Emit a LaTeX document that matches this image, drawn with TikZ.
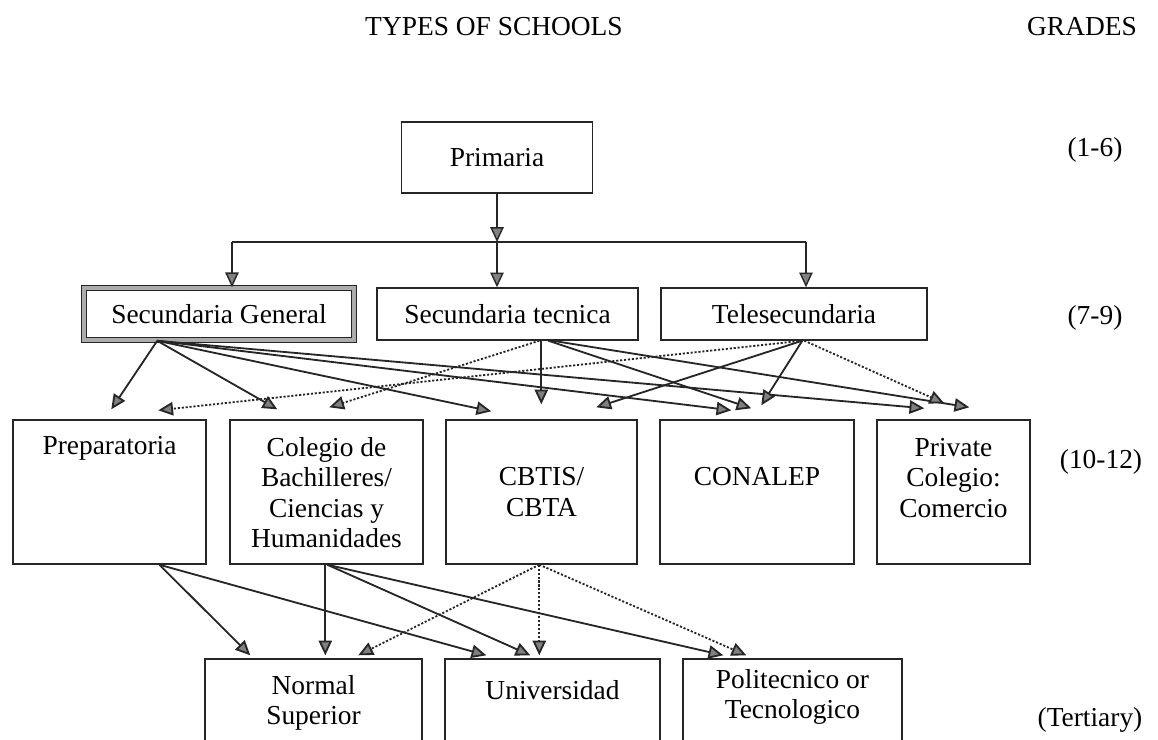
\documentclass[tikz,border=0pt]{standalone}
\usepackage{fontspec}
\setmainfont{Liberation Serif}
\usetikzlibrary{arrows.meta,calc}

\tikzset{
  school/.style 2 args={draw=black!85, line width=1pt, minimum width=#1*0.025cm,
    minimum height=#2*0.025cm, inner sep=0pt, align=center},
  words/.style={inner sep=0pt, align=center},
  link/.style={-{Triangle[length=10.5pt,width=9.5pt,fill=black!50]}, line width=1.3pt, draw=black!85},
  dotlink/.style={link, dash pattern=on 1.5pt off 1.3pt},
  bus/.style={-{Triangle[length=10.5pt,width=9.5pt,fill=black!50]}, line width=1pt, draw=black!85}
}

\begin{document}
\begin{tikzpicture}[x=0.025cm, y=-0.025cm, font=\fontsize{19.5}{21.5}\selectfont]
        \useasboundingbox (0,0) rectangle (1158,739);
        \clip (0,0) rectangle (1158,739);

        % headings and grades
        \node[words] (title) at (494,27) {TYPES OF SCHOOLS};
        \node[words] (grades) at (1082,27) {GRADES};
        \node[words] (g16) at (1095,150) {(1-6)};
        \node[words] (g79) at (1095,318) {(7-9)};
        \node[words] (g1012) at (1101,462) {(10-12)};
        \node[words] (gter) at (1090,720) {(Tertiary)};

        % schools
        \node[school={191}{71}] (prim) at (497,157.5) {Primaria};
        \node[school={270}{52}, line width=1.1pt, double=gray!65, double distance=2.6pt] (sgen) at (219,314) {Secundaria General};
        \node[school={261}{52}] (stec) at (507.5,314) {Secundaria tecnica};
        \node[school={266}{52}] (tele) at (794,314) {Telesecundaria};

        \node[school={193}{144}] (prep) at (109.5,492) {};
        \node[school={193}{144}] (cole) at (326.5,492) {};
        \node[school={191}{144}] (cbt) at (541.5,492) {CBTIS/\\CBTA};
        \node[school={194}{144}] (cona) at (757,492) {};
        \node[school={153}{144}] (priv) at (953.5,492) {};
        \node[words] (prep-t) at (109.5,448) {Preparatoria};
        \node[words] (cole-t) at (326.5,492.5) {Colegio de\\Bachilleres/\\Ciencias y\\Humanidades};
        \node[words] (cona-t) at (757,477) {CONALEP};
        \node[words] (priv-t) at (953.5,478) {Private\\Colegio:\\Comercio};

        \node[school={217}{122}] (norm) at (313.5,720) {};
        \node[school={215}{122}] (univ) at (552.5,720) {};
        \node[school={219}{122}] (poli) at (792.5,720) {};
        \node[words] (norm-t) at (313.5,703) {Normal\\Superior};
        \node[words] (univ-t) at (552.5,690) {Universidad};
        \node[words] (poli-t) at (792.5,697) {Politecnico or\\Tecnologico};

        % primaria to the three secundarias
        \coordinate (bus-l) at (232,242);
        \coordinate (bus-r) at (806,242);
        \draw[bus] (prim.south) -- (prim.south |- bus-l);
        \draw[line width=1pt, draw=black!85] (bus-l) -- (bus-r);
        \draw[bus] (bus-l) -- (bus-l |- sgen.north);
        \draw[bus] (prim.south |- bus-l) -- (prim.south |- stec.north);
        \draw[bus] (bus-r) -- (bus-r |- tele.north);

        % secundaria to grades 10-12
        \draw[link] ($(sgen.south west)+(74,0)$) -- ($(prep.north west)+(99,-10)$);
        \draw[link] ($(sgen.south west)+(74,0)$) -- ($(cole.north west)+(48,-10)$);
        \draw[link] ($(sgen.south west)+(74,0)$) -- ($(cbt.north west)+(46,-8)$);
        \draw[link] ($(sgen.south west)+(74,0)$) -- ($(cona.north west)+(72,-9)$);
        \draw[link] ($(sgen.south west)+(74,0)$) -- ($(priv.north west)+(48,-11)$);

        \draw[dotlink] ($(stec.south west)+(163,0)$) -- ($(cole.north west)+(100,-12)$);
        \draw[link] ($(stec.south west)+(165,0)$) -- ($(cbt.north west)+(96,-15)$);
        \draw[link] ($(stec.south west)+(172,0)$) -- ($(cona.north west)+(92,-11)$);
        \draw[link] ($(stec.south west)+(176,0)$) -- ($(priv.north west)+(93,-12)$);

        \draw[dotlink] ($(tele.south west)+(142,0)$) -- ($(prep.north west)+(146,-9)$);
        \draw[link] ($(tele.south west)+(142,0)$) -- ($(cbt.north west)+(151,-12)$);
        \draw[link] ($(tele.south west)+(142,0)$) -- ($(cona.north west)+(102,-14)$);
        \draw[dotlink] ($(tele.south west)+(144,0)$) -- ($(priv.north west)+(68,-16)$);

        % grades 10-12 to tertiary
        \draw[link] ($(prep.south west)+(147,0)$) -- ($(norm.north west)+(46,-3)$);
        \draw[link] ($(prep.south west)+(147,0)$) -- ($(univ.north west)+(42,-3)$);
        \draw[link] ($(cole.south west)+(96,0)$) -- ($(norm.north west)+(121,-3)$);
        \draw[link] ($(cole.south west)+(98,0)$) -- ($(univ.north west)+(86,-3)$);
        \draw[link] ($(cole.south west)+(98,0)$) -- ($(poli.north west)+(41,-3)$);
        \draw[dotlink] ($(cbt.south west)+(94,0)$) -- ($(norm.north west)+(154,-3)$);
        \draw[dotlink] ($(cbt.south west)+(94,0)$) -- ($(univ.north west)+(95,-3)$);
        \draw[dotlink] ($(cbt.south west)+(94,0)$) -- ($(poli.north west)+(64,-3)$);
    \end{tikzpicture}
\end{document}
